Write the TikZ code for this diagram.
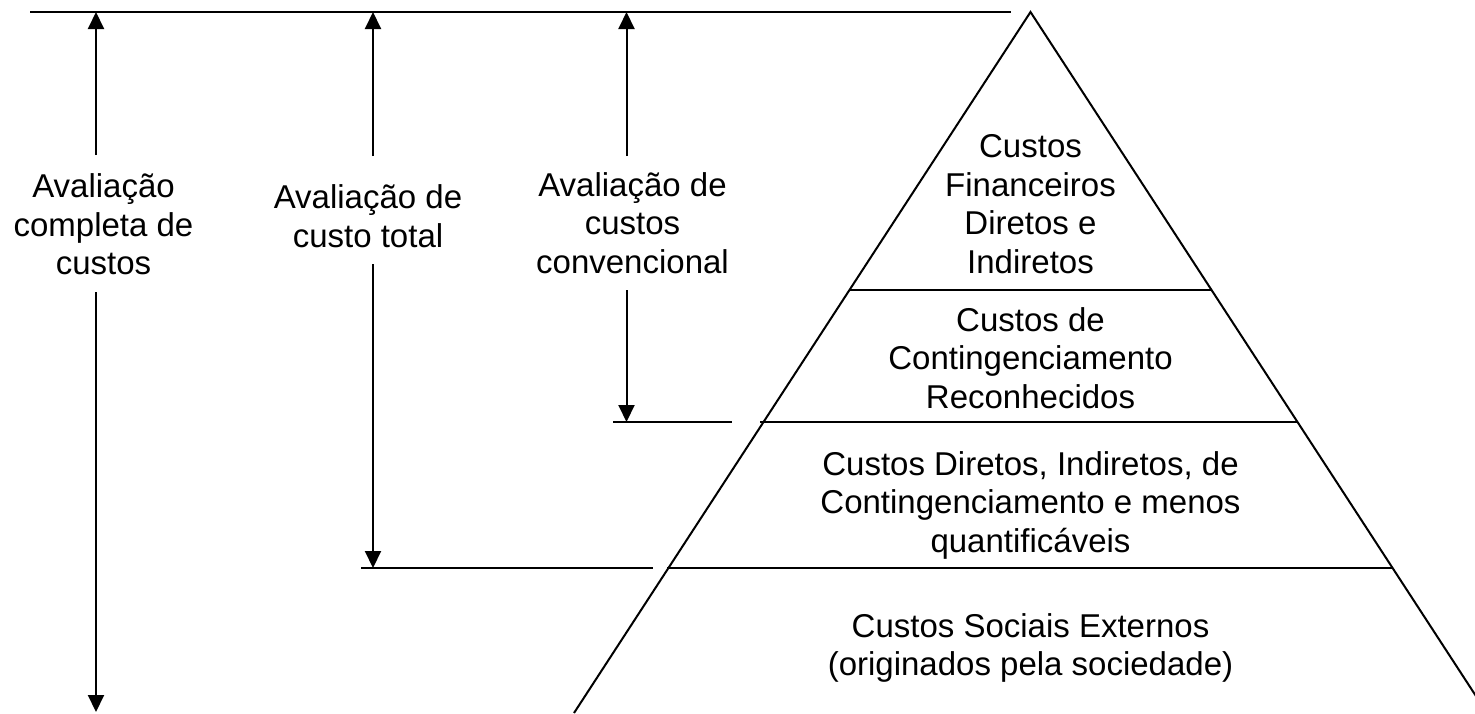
\documentclass[tikz,border=0pt]{standalone}
\usepackage{fontspec}
\setmainfont{Liberation Sans}
\usetikzlibrary{arrows.meta}
\begin{document}
\begin{tikzpicture}[x=1pt,y=-1pt,
  ln/.style={line width=2pt,black},
  arr/.style={line width=2pt,-{Triangle[width=16pt,length=17pt]}},
  lbl/.style={align=center,inner sep=0pt,font=\fontsize{33}{38.5}\selectfont}]
\useasboundingbox (0,0) rectangle (1475,713);
\begin{scope}
\clip (0,0) rectangle (1475,713);
% triangle
\coordinate (apex) at (1030.5,12);
\coordinate (bl) at (574,713);
\coordinate (br) at (1487,713);
\draw[ln] (bl) -- (apex) -- (br);
% layer lines
\coordinate (l1a) at (849.5,290); \coordinate (l1b) at (1211.5,290);
\coordinate (l2a) at (760,422);   \coordinate (l2b) at (1297.5,422);
\coordinate (l3a) at (667,568);   \coordinate (l3b) at (1393,568);
\draw[ln] (l1a) -- (l1b);
\draw[ln] (l2a) -- (l2b);
\draw[ln] (l3a) -- (l3b);
\end{scope}
% top and reference lines
\coordinate (t0) at (30,12); \coordinate (t1) at (1011,12);
\draw[ln] (t0) -- (t1);
\coordinate (r2a) at (613,422); \coordinate (r2b) at (732,422);
\draw[ln] (r2a) -- (r2b);
\coordinate (r3a) at (361,568); \coordinate (r3b) at (653,568);
\draw[ln] (r3a) -- (r3b);
% labels
\node[lbl] (c1) at (103.5,224.5) {Avaliação\\completa de\\custos};
\node[lbl] (c2) at (368,216) {Avaliação de\\custo total};
\node[lbl] (c3) at (632.5,223) {Avaliação de\\custos\\convencional};
\node[lbl] (p1) at (1030.5,204) {Custos\\Financeiros\\Diretos e\\Indiretos};
\node[lbl] (p2) at (1030.5,358) {Custos de\\Contingenciamento\\Reconhecidos};
\node[lbl] (p3) at (1030.5,505) {Custos Diretos, Indiretos, de\\Contingenciamento e menos\\quantificáveis};
\node[lbl] (p4) at (1030.5,648) {Custos Sociais Externos\\(originados pela sociedade)};
% arrows
\coordinate (a1u) at (96,155); \coordinate (a1t) at (96,12);
\coordinate (a1d) at (96,292); \coordinate (a1b) at (96,712);
\draw[arr] (a1u) -- (a1t);
\draw[arr] (a1d) -- (a1b);
\coordinate (a2u) at (373,156); \coordinate (a2t) at (373,12);
\coordinate (a2d) at (373,264); \coordinate (a2b) at (373,568);
\draw[arr] (a2u) -- (a2t);
\draw[arr] (a2d) -- (a2b);
\coordinate (a3u) at (626.5,156); \coordinate (a3t) at (626.5,12);
\coordinate (a3d) at (626.5,290); \coordinate (a3b) at (626.5,422);
\draw[arr] (a3u) -- (a3t);
\draw[arr] (a3d) -- (a3b);
\end{tikzpicture}
\end{document}
